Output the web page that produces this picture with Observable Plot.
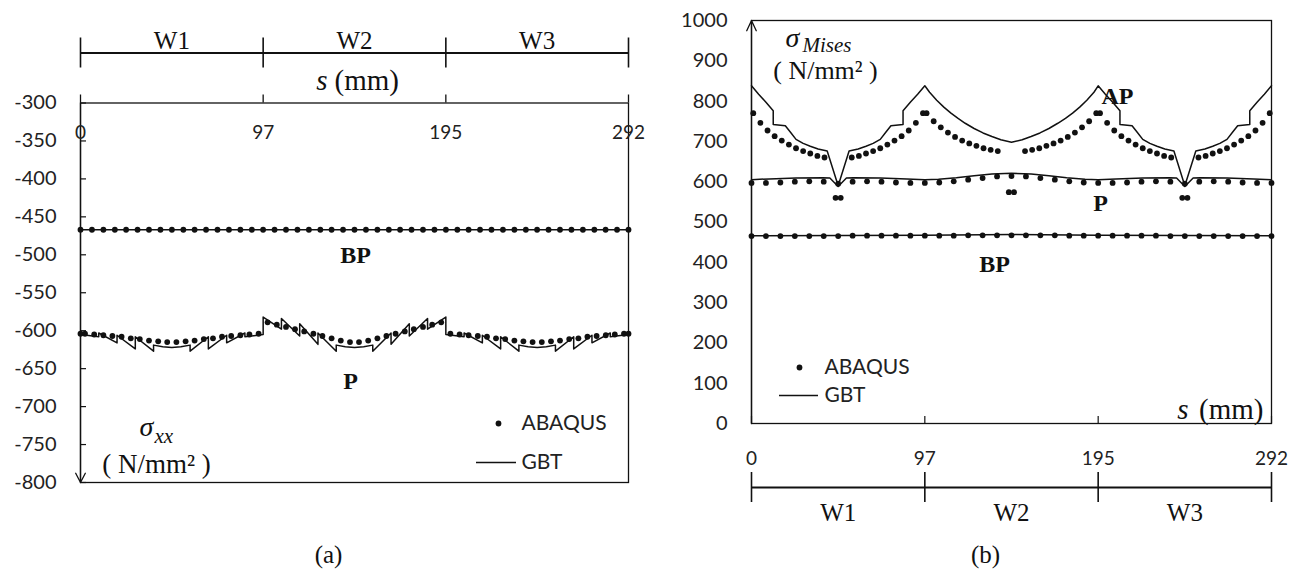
<!DOCTYPE html>
<html><head><meta charset="utf-8">
<script src="https://cdn.jsdelivr.net/npm/d3@7"></script>
<script src="https://cdn.jsdelivr.net/npm/@observablehq/plot@0.6"></script>
<style>
body{margin:0;background:#fff;}
#wrap{position:relative;width:1302px;height:570px;overflow:hidden;background:#fff}
#left,#right{position:absolute;top:0}
#left{left:0} #right{left:651px}
svg{overflow:visible}
</style></head><body><div id="wrap"><div id="left"></div><div id="right"></div></div>
<script>
// ---------- shared categories / ticks ----------
const wallEdges = [0, 97.33, 194.67, 292];
const xTickLabels = ["0", "97", "195", "292"];
const wallMids = [48.67, 146, 243.33];
const wallNames = ["W1", "W2", "W3"];
const yTicksLeft = [-300, -350, -400, -450, -500, -550, -600, -650, -700, -750, -800];
const yTicksRight = [0, 100, 200, 300, 400, 500, 600, 700, 800, 900, 1000];

// ---------- (a) sigma_xx : BP ----------
const sLeftBP = [0, 6.1, 12.2, 18.3, 24.3, 30.4, 36.5, 42.6, 48.7, 54.8, 60.8, 66.9, 73.0, 79.1, 85.2, 91.3, 97.3, 103.4, 109.5, 115.6, 121.7, 127.8, 133.8, 139.9, 146.0, 152.1, 158.2, 164.3, 170.3, 176.4, 182.5, 188.6, 194.7, 200.8, 206.8, 212.9, 219.0, 225.1, 231.2, 237.3, 243.3, 249.4, 255.5, 261.6, 267.7, 273.8, 279.8, 285.9, 292.0];
const vLeftBP = [-467, -467, -467, -467, -467, -467, -467, -467, -467, -467, -467, -467, -467, -467, -467, -467, -467, -467, -467, -467, -467, -467, -467, -467, -467, -467, -467, -467, -467, -467, -467, -467, -467, -467, -467, -467, -467, -467, -467, -467, -467, -467, -467, -467, -467, -467, -467, -467, -467];
const sLeftBPgbt = [0, 292];
const vLeftBPgbt = [-467, -467];

// ---------- (a) sigma_xx : P ----------
const sLeftP = [0, 2.4, 7.3, 12.2, 17.0, 21.9, 26.8, 31.6, 36.5, 41.4, 46.2, 51.1, 56.0, 60.8, 65.7, 70.6, 75.4, 80.3, 85.2, 90.0, 94.9,
  99.7, 104.6, 109.5, 114.3, 119.2, 124.1, 128.9, 133.8, 138.7, 143.6, 148.4, 153.3, 158.2, 163.0, 167.9, 172.8, 177.6, 182.5, 187.4, 192.2,
  197.1, 202.0, 206.8, 211.7, 216.6, 221.4, 226.3, 231.2, 236.0, 240.9, 245.8, 250.7, 255.5, 260.4, 265.3, 270.1, 275.0, 279.9, 284.7, 289.6, 292];
const vLeftP = [-604, -604, -605, -606, -607, -608, -610, -611, -613, -614, -615, -615, -614, -613, -611, -610, -608, -607, -606, -605, -604,
  -589, -592, -595, -598, -601, -604, -607, -610, -613, -615, -615, -613, -610, -607, -604, -601, -598, -595, -592, -589,
  -604, -605, -606, -607, -608, -610, -611, -613, -614, -615, -615, -614, -613, -611, -610, -608, -607, -606, -605, -604, -604];
const sLeftPgbt = [0, 9.73, 9.73, 19.47, 19.47, 29.2, 29.2, 38.93, 38.93, 43.8, 48.67, 53.5, 58.4, 58.4, 68.13, 68.13, 77.87, 77.87, 87.6, 87.6, 97.33,
  97.33, 107.07, 107.07, 116.8, 116.8, 126.53, 126.53, 136.27, 136.27, 141.1, 146, 150.9, 155.73, 155.73, 165.47, 165.47, 175.2, 175.2, 184.93, 184.93, 194.67,
  194.67, 204.4, 204.4, 214.13, 214.13, 223.87, 223.87, 233.6, 233.6, 238.5, 243.33, 248.2, 253.07, 253.07, 262.8, 262.8, 272.53, 272.53, 282.27, 282.27, 292];
const vLeftPgbt = [-605, -608, -603, -616, -606, -624, -608, -627, -619, -621, -622, -621, -619, -627, -608, -624, -606, -616, -603, -608, -605,
  -582, -598, -584, -607, -591, -618, -603, -627, -619, -621, -622, -621, -619, -627, -603, -618, -591, -607, -584, -598, -582,
  -605, -608, -603, -616, -606, -624, -608, -627, -619, -621, -622, -621, -619, -627, -608, -624, -606, -616, -603, -608, -605];

// ---------- (b) sigma_Mises ----------
const sRight = [0, 8.11, 16.22, 24.33, 32.44, 40.56, 48.67, 56.78, 64.89, 73, 81.11, 89.22, 97.33, 105.44, 113.56, 121.67, 129.78, 137.89, 146, 154.11, 162.22, 170.33, 178.44, 186.56, 194.67, 202.78, 210.89, 219, 227.11, 235.22, 243.33, 251.44, 259.56, 267.67, 275.78, 283.89, 292];
const vRightBP = [465, 465, 465, 465, 465, 465, 465, 466, 466, 466, 466, 466, 466, 466, 466, 467, 467, 467, 467, 467, 467, 467, 466, 466, 466, 466, 466, 466, 466, 465, 465, 465, 465, 465, 465, 465, 465];
const vRightP = [597, 597, 598, 600, 601, 600, 595, 600, 601, 600, 598, 597, 597, 598, 601, 605, 609, 613, 614, 613, 609, 605, 601, 598, 597, 597, 598, 600, 601, 600, 595, 600, 601, 600, 598, 597, 597];
const sRightAP = [1, 5, 9, 13, 17, 21, 25, 29, 33, 37, 41, 47.2, 50.1, 56.3, 60.3, 64.3, 68.3, 72.3, 76.3, 80.3, 84.3, 88.3, 92.3, 96.3,
  98.3, 102.3, 106.3, 110.3, 114.3, 118.3, 122.3, 126.3, 130.3, 134.3, 138.3, 144.5, 147.4, 153.6, 157.6, 161.6, 165.6, 169.6, 173.6, 177.6, 181.6, 185.6, 189.6, 193.6,
  195.7, 199.7, 203.7, 207.7, 211.7, 215.7, 219.7, 223.7, 227.7, 231.7, 235.7, 241.9, 244.8, 251.0, 255.0, 259.0, 263.0, 267.0, 271.0, 275.0, 279.0, 283.0, 287.0, 291.0];
const vRightAP = [770, 746, 727, 713, 702, 692, 683, 676, 670, 664, 660, 560, 560, 660, 664, 670, 676, 683, 692, 702, 713, 727, 746, 770,
  770, 750, 735, 722, 711, 702, 695, 689, 683, 679, 676, 574, 574, 676, 679, 683, 689, 695, 702, 711, 722, 735, 750, 770,
  770, 746, 727, 713, 702, 692, 683, 676, 670, 664, 660, 560, 560, 660, 664, 670, 676, 683, 692, 702, 713, 727, 746, 770];
const sRightBPgbt = [0, 97.33, 146, 194.67, 292];
const vRightBPgbt = [466, 467, 469, 467, 466];
const sRightPgbt = [0, 10, 25, 40, 44, 48.67, 53.3, 57.3, 72.3, 87.3, 97.33, 105, 115, 125, 135, 146, 157, 167, 177, 187.3, 194.67, 204.7, 219.7, 234.7, 238.7, 243.33, 248, 252, 267, 282, 292];
const vRightPgbt = [605, 607, 609, 610, 609, 588, 609, 610, 609, 607, 605, 606, 610, 615, 619, 621, 619, 615, 610, 606, 605, 607, 609, 610, 609, 588, 609, 610, 609, 607, 605];
const sRightAPgbt = [0, 4, 8, 12.2, 12.2, 19, 22, 25, 29, 33, 37.4, 42.5, 48.67, 54.8, 59.9, 64.3, 68.3, 72.3, 75.3, 78.3, 85.1, 85.1, 89.3, 93.3, 97.33,
  100, 104, 108, 112, 116, 120, 125, 130, 135, 140, 146, 152, 157, 162, 167, 172, 176.3, 180.3, 184.3, 188.3, 192.3, 194.67,
  198.7, 202.7, 206.9, 206.9, 213.7, 216.7, 219.7, 223.7, 227.7, 232.1, 237.2, 243.33, 249.5, 254.6, 259, 263, 267, 270, 273, 279.8, 279.8, 284, 288, 292];
const vRightAPgbt = [838, 817, 798, 776, 742, 739, 722, 705, 695, 688, 681, 676, 590, 676, 681, 688, 695, 705, 722, 739, 742, 776, 798, 817, 838,
  822, 802, 785, 770, 757, 745, 732, 721, 712, 704, 698, 704, 712, 721, 732, 745, 757, 770, 785, 802, 822, 838,
  817, 798, 776, 742, 739, 722, 705, 695, 688, 681, 676, 590, 676, 681, 688, 695, 705, 722, 739, 742, 776, 798, 817, 838];

// ---------- tables ----------
const zip = (s, v) => s.map((d, i) => ({s: d, v: v[i]}));
const xTickTable = wallEdges.map((s, i) => ({s, label: xTickLabels[i]}));
const wallTable = wallMids.map((s, i) => ({s, name: wallNames[i]}));

const SERIF = "'Liberation Serif', 'Times New Roman', serif";
const SANS = "Lato, 'Open Sans', sans-serif";
const INK = "#111";
const TXT = "#222";
const R = 2.9;

function labelText(str, o) {
  return Plot.text([str], {text: d => d, fill: INK, fontFamily: SERIF, textAnchor: "middle", lineAnchor: "middle", ...o});
}
function legendText(str, o) {
  return Plot.text([str], {text: d => d, fill: TXT, fontFamily: SANS, fontSize: 21, textAnchor: "start", lineAnchor: "middle", ...o});
}

// ---------- (a) ----------
const left = Plot.plot({
  width: 651, height: 570,
  marginLeft: 80, marginRight: 23, marginTop: 102.5, marginBottom: 88,
  x: {domain: [0, 292], axis: null},
  y: {domain: [-800, -300]},
  style: {background: "transparent", color: INK, overflow: "visible"},
  marks: [
    Plot.frame({stroke: INK, strokeWidth: 1.3}),
    Plot.arrow([{x: 0, a: -300, b: -800}], {x1: "x", x2: "x", y1: "a", y2: "b", stroke: INK, strokeWidth: 1.3, headLength: 12, headAngle: 55}),
    Plot.ruleY(yTicksLeft, {x1: 0, x2: 0, insetRight: -6, stroke: INK, strokeWidth: 1.2}),
    Plot.axisY({ticks: yTicksLeft, tickSize: 0, tickPadding: 24, tickFormat: d => String(d), fontSize: 20, fontFamily: SANS, fill: TXT, label: null}),
    Plot.ruleX(wallEdges, {y1: -300, y2: -300, insetTop: -8, stroke: INK, strokeWidth: 1.3}),
    Plot.text(xTickTable, {x: "s", y: -300, dy: 30, text: "label", fontSize: 19, fontFamily: SANS, fill: TXT}),
    Plot.ruleY([-300], {dy: -50, stroke: INK, strokeWidth: 2}),
    Plot.ruleX(wallEdges, {y1: -300, y2: -300, dy: -50, insetTop: -15, insetBottom: -15, stroke: INK, strokeWidth: 1.6}),
    Plot.text(wallTable, {x: "s", y: -300, dy: -62, text: "name", fontFamily: SERIF, fontSize: 25, fill: INK}),
    labelText("s", {frameAnchor: "top", dx: -27, dy: -22, textAnchor: "end", fontStyle: "italic", fontSize: 29}),
    labelText("(mm)", {frameAnchor: "top", dx: -20, dy: -22, textAnchor: "start", fontSize: 29}),
    // data
    Plot.line(zip(sLeftBPgbt, vLeftBPgbt), {x: "s", y: "v", stroke: INK, strokeWidth: 1.5}),
    Plot.dot(zip(sLeftBP, vLeftBP), {x: "s", y: "v", r: R, fill: INK, stroke: "none"}),
    Plot.line(zip(sLeftPgbt, vLeftPgbt), {x: "s", y: "v", stroke: INK, strokeWidth: 1.5}),
    Plot.dot(zip(sLeftP, vLeftP), {x: "s", y: "v", r: R, fill: INK, stroke: "none"}),
    // series labels
    labelText("BP", {frameAnchor: "top", dx: 1, dy: 152, fontWeight: "bold", fontSize: 24}),
    labelText("P", {frameAnchor: "top", dx: -4, dy: 278, fontWeight: "bold", fontSize: 24}),
    // y label
    labelText("σ", {frameAnchor: "bottom-left", dx: 66, dy: -55, fontStyle: "italic", fontSize: 28}),
    labelText("xx", {frameAnchor: "bottom-left", dx: 74, dy: -46, textAnchor: "start", fontStyle: "italic", fontSize: 21}),
    labelText("( N/mm² )", {frameAnchor: "bottom-left", dx: 76, dy: -18, fontSize: 27}),
    // legend
    Plot.dot([0], {frameAnchor: "bottom-left", dx: 418, dy: -59, r: R, fill: INK, stroke: "none"}),
    legendText("ABAQUS", {frameAnchor: "bottom-left", dx: 441, dy: -59}),
    Plot.ruleY([-800], {dy: -20, insetLeft: 396, insetRight: 112, stroke: INK, strokeWidth: 1.6}),
    legendText("GBT", {frameAnchor: "bottom-left", dx: 441, dy: -20}),
    // caption
    labelText("(a)", {frameAnchor: "bottom", dx: -26, dy: 72, fontSize: 25})
  ]
});
document.getElementById("left").append(left);

// ---------- (b) ----------
const right = Plot.plot({
  width: 651, height: 570,
  marginLeft: 100, marginRight: 31, marginTop: 20, marginBottom: 147,
  x: {domain: [0, 292], axis: null},
  y: {domain: [0, 1000]},
  style: {background: "transparent", color: INK, overflow: "visible"},
  marks: [
    Plot.frame({stroke: INK, strokeWidth: 1.3}),
    Plot.arrow([{x: 0, a: 0, b: 1000}], {x1: "x", x2: "x", y1: "a", y2: "b", stroke: INK, strokeWidth: 1.3, headLength: 13, headAngle: 50}),
    Plot.axisY({ticks: yTicksRight, tickSize: 0, tickPadding: 24, tickFormat: d => String(d), fontSize: 20, fontFamily: SANS, fill: TXT, label: null}),
    Plot.ruleX(wallEdges, {y1: 0, y2: 0, insetTop: -7, stroke: INK, strokeWidth: 1.2}),
    Plot.text(xTickTable, {x: "s", y: 0, dy: 35, text: "label", fontSize: 19, fontFamily: SANS, fill: TXT}),
    Plot.ruleY([0], {dy: 64, stroke: INK, strokeWidth: 2}),
    Plot.ruleX(wallEdges, {y1: 0, y2: 0, dy: 64, insetTop: -15, insetBottom: -15, stroke: INK, strokeWidth: 1.6}),
    Plot.text(wallTable, {x: "s", y: 0, dy: 89, text: "name", fontFamily: SERIF, fontSize: 25, fill: INK}),
    labelText("s", {frameAnchor: "bottom-right", dx: -83, dy: -14, textAnchor: "end", fontStyle: "italic", fontSize: 29}),
    labelText("(mm)", {frameAnchor: "bottom-right", dx: -8, dy: -14, textAnchor: "end", fontSize: 29}),
    // data
    Plot.line(zip(sRightBPgbt, vRightBPgbt), {x: "s", y: "v", stroke: INK, strokeWidth: 1.5}),
    Plot.dot(zip(sRight, vRightBP), {x: "s", y: "v", r: R, fill: INK, stroke: "none"}),
    Plot.line(zip(sRightPgbt, vRightPgbt), {x: "s", y: "v", stroke: INK, strokeWidth: 1.5}),
    Plot.dot(zip(sRight, vRightP), {x: "s", y: "v", r: R, fill: INK, stroke: "none"}),
    Plot.line(zip(sRightAPgbt, vRightAPgbt), {x: "s", y: "v", stroke: INK, strokeWidth: 1.5}),
    Plot.dot(zip(sRightAP, vRightAP), {x: "s", y: "v", r: R, fill: INK, stroke: "none"}),
    // series labels
    labelText("AP", {frameAnchor: "top-left", dx: 366, dy: 76, fontWeight: "bold", fontSize: 24}),
    labelText("P", {frameAnchor: "top-left", dx: 349, dy: 183, fontWeight: "bold", fontSize: 24}),
    labelText("BP", {frameAnchor: "top-left", dx: 243, dy: 244, fontWeight: "bold", fontSize: 24}),
    // y label
    labelText("σ", {frameAnchor: "top-left", dx: 41, dy: 18, fontStyle: "italic", fontSize: 28}),
    labelText("Mises", {frameAnchor: "top-left", dx: 51, dy: 25, textAnchor: "start", fontStyle: "italic", fontSize: 21}),
    labelText("( N/mm² )", {frameAnchor: "top-left", dx: 74, dy: 50, fontSize: 26}),
    // legend
    Plot.dot([0], {frameAnchor: "bottom-left", dx: 48, dy: -56, r: R, fill: INK, stroke: "none"}),
    legendText("ABAQUS", {frameAnchor: "bottom-left", dx: 73, dy: -56}),
    Plot.ruleY([0], {dy: -28, insetLeft: 28, insetRight: 453, stroke: INK, strokeWidth: 1.6}),
    legendText("GBT", {frameAnchor: "bottom-left", dx: 73, dy: -28}),
    // caption
    labelText("(b)", {frameAnchor: "bottom", dx: -26, dy: 131, fontSize: 25})
  ]
});
document.getElementById("right").append(right);
</script>
</body></html>
